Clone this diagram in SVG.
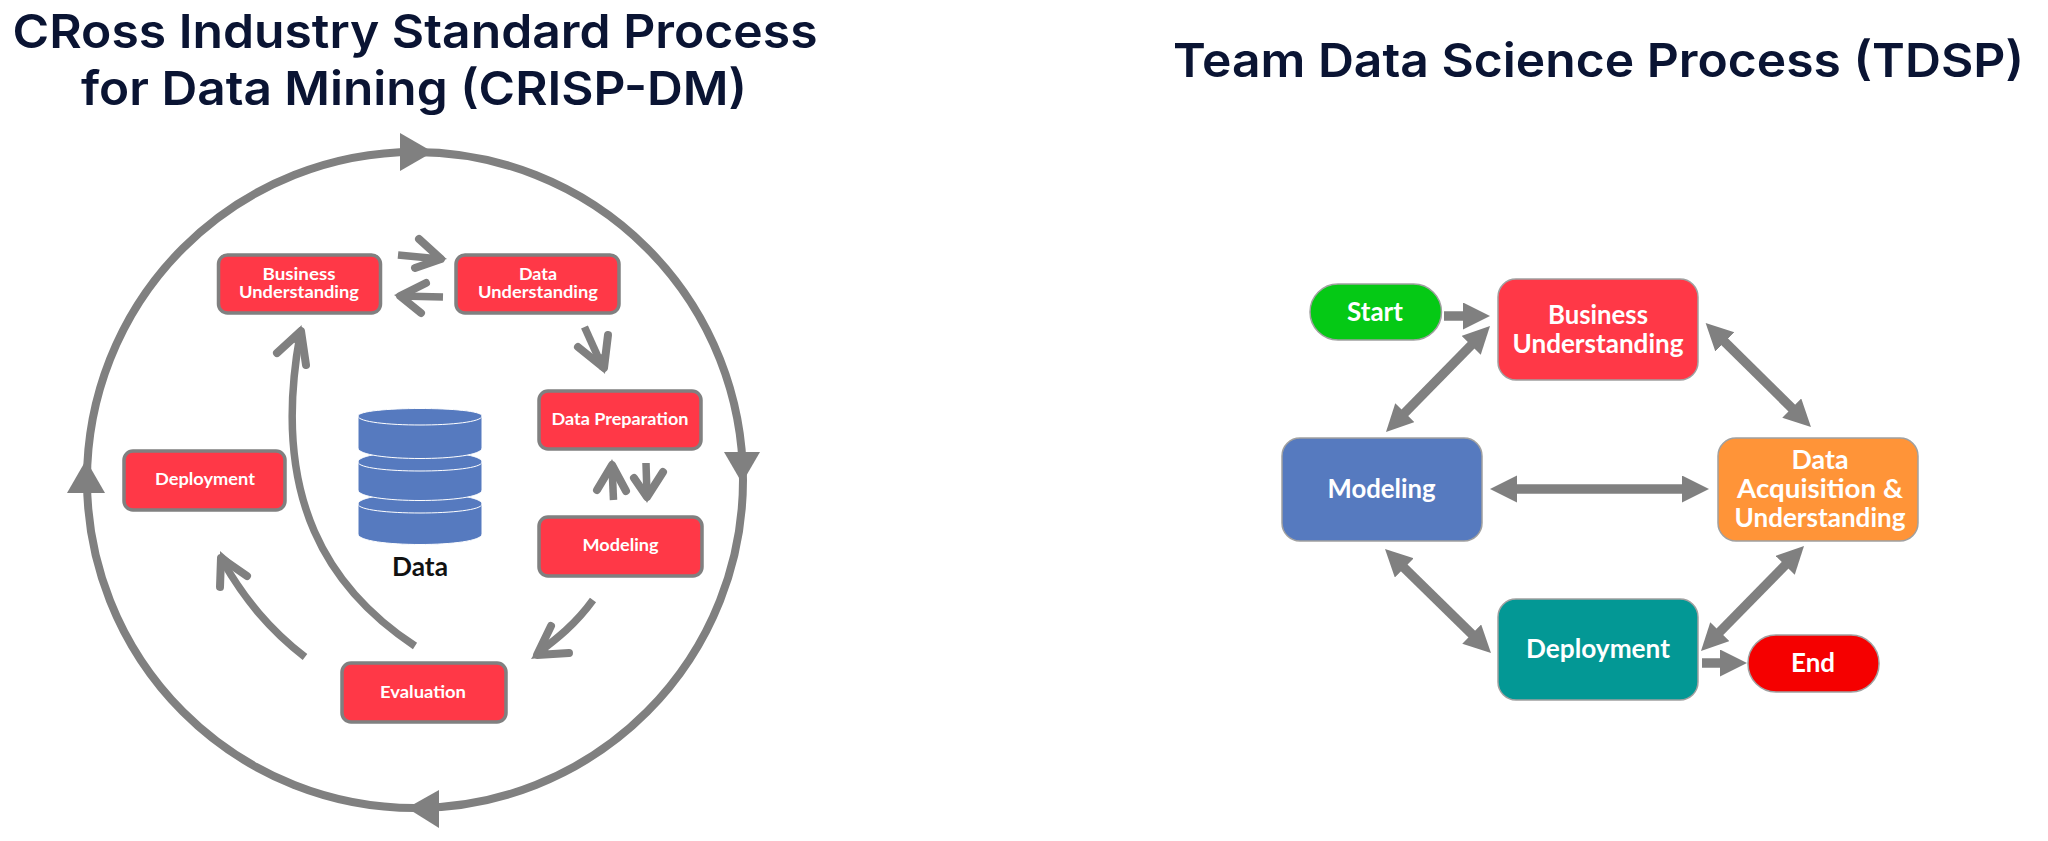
<svg xmlns="http://www.w3.org/2000/svg" width="2048" height="841" viewBox="0 0 2048 841">
<style>
.title{font-family:"Inter","Liberation Sans",sans-serif;font-weight:600;font-size:47px;fill:#0a1433;text-anchor:middle}
.s{font-family:"Lato","Liberation Sans",sans-serif;font-weight:700;font-size:17.500px;fill:#fff;text-anchor:middle}
.l{font-family:"Lato","Liberation Sans",sans-serif;font-weight:700;font-size:26px;fill:#fff;text-anchor:middle}
.box{fill:#ff3847;stroke:#808080;stroke-width:3.5}
.big{stroke:#a0a0a0;stroke-width:1.5}
.ring{fill:none;stroke:#808080;stroke-width:8}
.cv{fill:none;stroke:#808080;stroke-width:7.500}
.hd{fill:none;stroke:#808080;stroke-width:8;stroke-linecap:round;stroke-linejoin:round}
.dbl{stroke:#808080;stroke-width:9.500;fill:none;marker-start:url(#tri);marker-end:url(#tri)}
.sgl{stroke:#808080;stroke-width:9.500;fill:none;marker-end:url(#tri)}
.tip{fill:#808080}
.cyl{fill:#567abf;stroke:#fff;stroke-width:1}
</style>
<defs>
<marker id="tri" markerUnits="userSpaceOnUse" markerWidth="28" markerHeight="28" refX="13" refY="13.5" orient="auto-start-reverse"><path d="M0 0L27 13.5L0 27Z" fill="#808080"/></marker>
</defs>
<rect width="2048" height="841" fill="#fff"/>
<text class="title" x="415" y="47.500" textLength="805" lengthAdjust="spacingAndGlyphs">CRoss Industry Standard Process</text>
<text class="title" x="414" y="104.500" textLength="666" lengthAdjust="spacingAndGlyphs">for Data Mining (CRISP-DM)</text>
<text class="title" x="1598.500" y="77" textLength="851" lengthAdjust="spacingAndGlyphs">Team Data Science Process (TDSP)</text>

<g id="connectors">
<circle class="ring" cx="415" cy="480" r="328"/>
<path class="tip" d="M433 152L400 133V171Z"/>
<path class="tip" d="M742 483L724 452H760Z"/>
<path class="tip" d="M407 808L439 790V828Z"/>
<path class="tip" d="M86 460L67 493H105Z"/>
<path class="cv" d="M415 646C330 590 270 500 300 335"/>
<path class="hd" d="M277 353L301 331L306 365"/>
<path class="tip" d="M301.500 325L288 340L304 347Z"/>
<path class="cv" d="M305 657C270 630 245 600 222 560"/>
<path class="hd" d="M220 587L221 558L247 576"/>
<path class="tip" d="M220 551L220 572L236 565Z"/>
<path class="cv" d="M398 255L440 259"/>
<path class="hd" d="M419 239L441 259L415 268"/>
<path class="tip" d="M447 259L431 248L429 264Z"/>
<path class="cv" d="M443 297L400 296"/>
<path class="hd" d="M426 283L400 296L421 313"/>
<path class="tip" d="M394 295L412 288L409 305Z"/>
<path class="cv" d="M584.500 327L603 368"/>
<path class="hd" d="M578 347L604 368L608 335"/>
<path class="tip" d="M605 374L590 359L607 352Z"/>
<path class="cv" d="M613.500 500L612 466"/>
<path class="hd" d="M597 490L612 465L626 491"/>
<path class="tip" d="M612 459L604 476L620 477Z"/>
<path class="cv" d="M646 463L647 496"/>
<path class="hd" d="M634 478L647 497L663 472"/>
<path class="tip" d="M647 503L640 489L656 486Z"/>
<path class="cv" d="M593 600C575 625 555 640 538 653"/>
<path class="hd" d="M551 626L537 655L569 653"/>
<path class="tip" d="M531 659L542 641L552 656Z"/>
<path class="sgl" d="M1444 316H1476"/>
<path class="sgl" d="M1702 663H1733"/>
<path class="dbl" d="M1480.200 336L1395.800 422"/>
<path class="dbl" d="M1715.600 332.800L1801 417.200"/>
<path class="dbl" d="M1504 489H1695"/>
<path class="dbl" d="M1395 558.800L1481 643.200"/>
<path class="dbl" d="M1794.200 556L1710.800 641"/>
</g>

<g id="crisp-business"><rect class="box" x="218.500" y="255" width="162" height="58" rx="9"/><text class="s" x="299" y="280" textLength="73" lengthAdjust="spacingAndGlyphs">Business</text><text class="s" x="299" y="298" textLength="120" lengthAdjust="spacingAndGlyphs">Understanding</text></g>
<g id="crisp-data-understanding"><rect class="box" x="456" y="255" width="163" height="58" rx="9"/><text class="s" x="538" y="280" textLength="38" lengthAdjust="spacingAndGlyphs">Data</text><text class="s" x="538" y="298" textLength="120" lengthAdjust="spacingAndGlyphs">Understanding</text></g>
<g id="crisp-data-preparation"><rect class="box" x="539" y="391" width="162" height="58" rx="9"/><text class="s" x="620" y="425" textLength="137" lengthAdjust="spacingAndGlyphs">Data Preparation</text></g>
<g id="crisp-modeling"><rect class="box" x="539" y="517" width="163" height="59" rx="9"/><text class="s" x="620.500" y="551" textLength="76" lengthAdjust="spacingAndGlyphs">Modeling</text></g>
<g id="crisp-evaluation"><rect class="box" x="342" y="663" width="164" height="59" rx="9"/><text class="s" x="423" y="698" textLength="86" lengthAdjust="spacingAndGlyphs">Evaluation</text></g>
<g id="crisp-deployment"><rect class="box" x="124" y="451" width="161" height="59" rx="9"/><text class="s" x="205" y="485" textLength="100" lengthAdjust="spacingAndGlyphs">Deployment</text></g>
<g id="crisp-data">
<path class="cyl" d="M358 504C358 490 482 490 482 504V534C482 548 358 548 358 534Z"/>
<path class="cyl" d="M358 504C358 516 482 516 482 504" fill="none"/>
<path class="cyl" d="M358 462C358 448 482 448 482 462V490C482 504 358 504 358 490Z"/>
<path class="cyl" d="M358 462C358 474 482 474 482 462" fill="none"/>
<path class="cyl" d="M358 416C358 406 482 406 482 416V448C482 462 358 462 358 448Z"/>
<path class="cyl" d="M358 416C358 428 482 428 482 416" fill="none"/>
<text x="420" y="576" font-family="Lato,'Liberation Sans',sans-serif" font-weight="700" font-size="26" fill="#111" text-anchor="middle" textLength="56" lengthAdjust="spacingAndGlyphs">Data</text>
</g>

<g id="tdsp-start"><rect x="1310" y="284" width="131.500" height="56" rx="28" fill="#05c915" class="big"/><text class="l" x="1375" y="321" textLength="56" lengthAdjust="spacingAndGlyphs">Start</text></g>
<g id="tdsp-business"><rect x="1498" y="279" width="200" height="101" rx="18" fill="#ff3847" class="big"/><text class="l" x="1598" y="324" textLength="100" lengthAdjust="spacingAndGlyphs">Business</text><text class="l" x="1598" y="353" textLength="171" lengthAdjust="spacingAndGlyphs">Understanding</text></g>
<g id="tdsp-modeling"><rect x="1282" y="438" width="200" height="103" rx="18" fill="#567abf" class="big"/><text class="l" x="1381.500" y="498" textLength="108" lengthAdjust="spacingAndGlyphs">Modeling</text></g>
<g id="tdsp-data"><rect x="1718" y="438" width="200" height="103" rx="18" fill="#ff9438" class="big"/><text class="l" x="1820" y="469" textLength="57" lengthAdjust="spacingAndGlyphs">Data</text><text class="l" x="1820" y="498" textLength="166" lengthAdjust="spacingAndGlyphs">Acquisition &amp;</text><text class="l" x="1820" y="527" textLength="171" lengthAdjust="spacingAndGlyphs">Understanding</text></g>
<g id="tdsp-deployment"><rect x="1498" y="599" width="200" height="101" rx="18" fill="#039895" class="big"/><text class="l" x="1598" y="658" textLength="144" lengthAdjust="spacingAndGlyphs">Deployment</text></g>
<g id="tdsp-end"><rect x="1748" y="635" width="131" height="57" rx="28" fill="#f50000" class="big"/><text class="l" x="1813" y="672" textLength="44" lengthAdjust="spacingAndGlyphs">End</text></g>
</svg>
